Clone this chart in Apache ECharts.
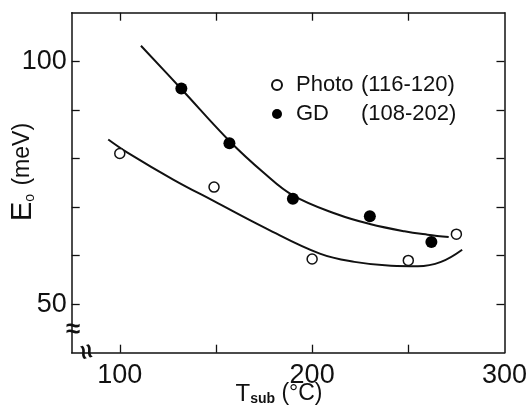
<!DOCTYPE html>
<html><head><meta charset="utf-8">
<script src="https://cdn.jsdelivr.net/npm/echarts@6/dist/echarts.min.js"></script>
<style>html,body{margin:0;padding:0;background:#fff}#c{width:530px;height:408px}</style>
</head><body><div id="c"></div>
<script>
// Data
const photoT = [100, 149, 200, 250, 275];
const photoE = [81.0, 74.1, 59.3, 59.0, 64.4];
const gdT = [132, 157, 190, 230, 262];
const gdE = [94.4, 83.1, 71.7, 68.1, 62.8];
// Hand-drawn fitted curves
const photoFitT = [94, 104, 128, 149, 176, 204, 222, 241, 255, 267, 278];
const photoFitE = [83.9, 81.2, 75.6, 71.2, 65.6, 60.4, 58.7, 57.9, 57.8, 58.7, 61.2];
const gdFitT = [111, 132, 157, 175, 190, 213, 230, 248, 260, 271];
const gdFitE = [103.2, 94.3, 83.6, 77.0, 72.4, 68.5, 66.5, 65.0, 64.3, 63.8];
const xTicks = [100, 150, 200, 250];
const xLabels = [100, 200, 300];
const yTicks = [50, 60, 70, 80, 90, 100];
const yLabels = [50, 100];
const legendText = {Photo: ['Photo', '(116-120)'], GD: ['GD', '(108-202)']};

const zip = (a, b) => a.map((v, i) => [v, b[i]]);
const FONT = 'Liberation Sans, Arial, sans-serif';
const INK = '#111';
const axisLine = {show: true, lineStyle: {color: INK, width: 1.5}};
const chart = echarts.init(document.getElementById('c'), null, {renderer: 'canvas'});
const xBase = {type: 'value', min: 75, max: 300, interval: 25, splitLine: {show: false}, axisLine: axisLine};
const yBase = {type: 'value', min: 40, max: 110, interval: 10, splitLine: {show: false}, axisLine: axisLine};
const tick = {show: true, inside: true, length: 8, lineStyle: {color: INK, width: 1.3}};
chart.setOption({
  animation: false,
  backgroundColor: '#fff',
  grid: {left: 71.7, right: 24, top: 12.7, bottom: 55.3, containLabel: false},
  xAxis: [
    Object.assign({}, xBase, {position: 'bottom',
      axisTick: Object.assign({customValues: xTicks}, tick),
      axisLabel: {show: true, customValues: xLabels, margin: 9, color: INK, fontFamily: FONT, fontSize: 27}}),
    Object.assign({}, xBase, {position: 'top',
      axisTick: Object.assign({customValues: xTicks}, tick),
      axisLabel: {show: false}})
  ],
  yAxis: [
    Object.assign({}, yBase, {position: 'left',
      axisTick: Object.assign({customValues: yTicks}, tick),
      axisLabel: {show: true, customValues: yLabels, margin: 5, color: INK, fontFamily: FONT, fontSize: 27}}),
    Object.assign({}, yBase, {position: 'right',
      axisTick: Object.assign({customValues: yTicks}, tick),
      axisLabel: {show: false}})
  ],
  legend: {
    data: ['Photo', 'GD'], orient: 'vertical', left: 266, top: 69,
    itemWidth: 28, itemHeight: 10, itemGap: 7,
    formatter: n => '{a|' + legendText[n][0] + '}{b|' + legendText[n][1] + '}',
    textStyle: {color: INK, fontFamily: FONT, fontSize: 22,
      rich: {a: {width: 65, fontSize: 22, fontFamily: FONT, color: INK, lineHeight: 22},
             b: {fontSize: 22, fontFamily: FONT, color: INK, lineHeight: 22}}}
  },
  series: [
    {name: 'photoFit', type: 'line', data: zip(photoFitT, photoFitE), smooth: 0.4, showSymbol: false, symbol: 'none',
      lineStyle: {color: INK, width: 2}, z: 2},
    {name: 'gdFit', type: 'line', data: zip(gdFitT, gdFitE), smooth: 0.4, showSymbol: false, symbol: 'none',
      lineStyle: {color: INK, width: 2}, z: 2},
    {name: 'Photo', type: 'scatter', data: zip(photoT, photoE), symbol: 'circle', symbolSize: 10,
      itemStyle: {color: '#fff', borderColor: INK, borderWidth: 1.5, opacity: 1}, z: 3},
    {name: 'GD', type: 'scatter', data: zip(gdT, gdE), symbol: 'circle', symbolSize: 12,
      itemStyle: {color: '#000', opacity: 1}, z: 3}
  ],
  graphic: [
    {type: 'text', x: 23, y: 172, rotation: Math.PI / 2, style: {
      text: '{e|E}{o|o}{m| (meV)}', align: 'center', verticalAlign: 'middle',
      rich: {e: {fontSize: 29, fontFamily: FONT, fill: INK},
             o: {fontSize: 14, fontFamily: FONT, fill: INK, verticalAlign: 'bottom', padding: [0, 2, 0, 0]},
             m: {fontSize: 23, fontFamily: FONT, fill: INK}}}},
    {type: 'text', x: 279, y: 394, style: {
      text: '{t|T}{s|sub}{c| (°C)}', align: 'center', verticalAlign: 'middle',
      rich: {t: {fontSize: 24, fontFamily: FONT, fill: INK},
             s: {fontSize: 14, fontFamily: FONT, fill: INK, fontWeight: 'bold', verticalAlign: 'bottom', padding: [8, 0, 0, 0]},
             c: {fontSize: 23, fontFamily: FONT, fill: INK}}}},
    {type: 'text', x: 73, y: 330, style: {text: '≈', fontSize: 26, fontWeight: 'bold', fontFamily: FONT, fill: INK, align: 'center', verticalAlign: 'middle'}},
    {type: 'text', x: 85, y: 352, rotation: -Math.PI / 2.4, style: {text: '≈', fontSize: 26, fontWeight: 'bold', fontFamily: FONT, fill: INK, align: 'center', verticalAlign: 'middle'}}
  ]
});
</script></body></html>
